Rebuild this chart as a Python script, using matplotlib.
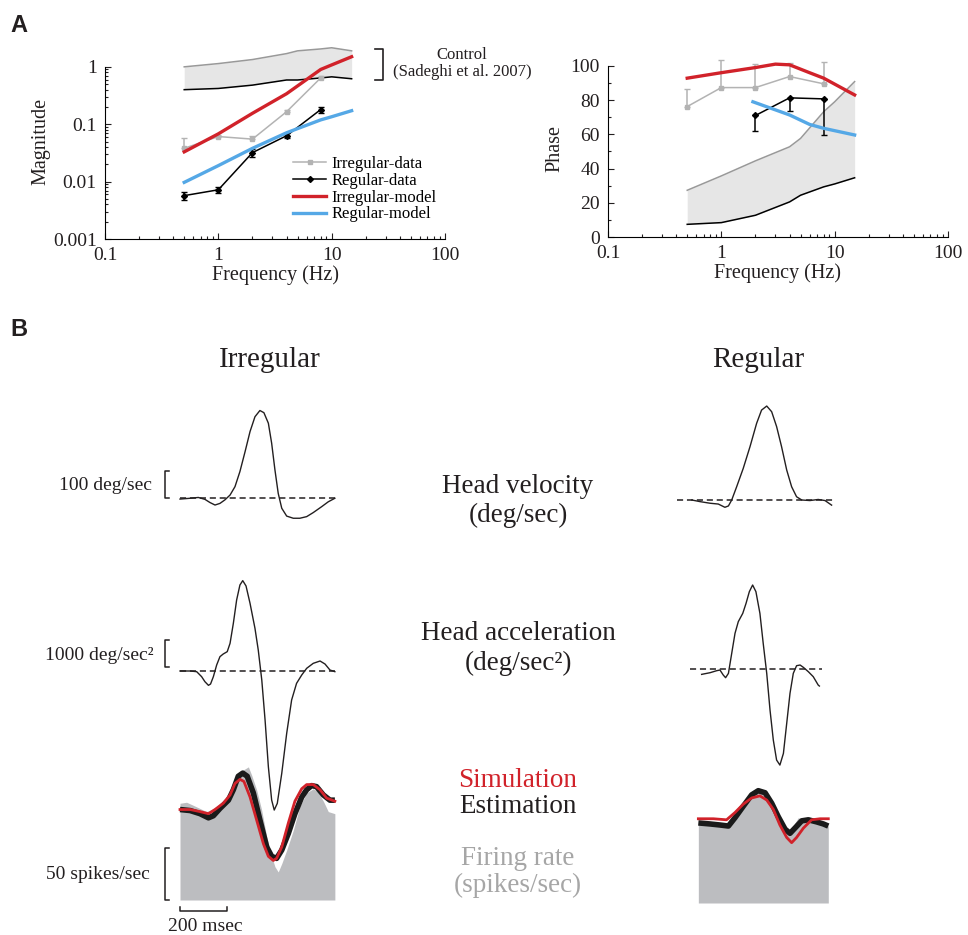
import matplotlib
matplotlib.use("Agg")
import matplotlib.pyplot as plt
from matplotlib.ticker import FixedLocator, NullFormatter

plt.rcParams['font.family'] = ['Liberation Serif', 'DejaVu Serif']
plt.rcParams['mathtext.fontset'] = 'stix'

W, H = 968, 935

# ---------------- panel A data ----------------
band_freq = [0.5, 1, 2, 4, 5, 8, 10, 15]
mag_band_hi = [1.0, 1.14, 1.34, 1.7, 1.9, 2.05, 2.15, 1.9]
mag_band_lo = [0.40, 0.42, 0.48, 0.59, 0.59, 0.64, 0.67, 0.62]
phase_band_hi = [27.3, 35.7, 44.5, 52.7, 57.6, 73.2, 79, 90.8]
phase_band_lo = [7.4, 8.4, 12.7, 20.5, 24.4, 29.3, 31, 34.6]

model_freq = [0.5, 1, 2, 4, 6, 8, 10, 15]
irr_mag_model = [0.033, 0.068, 0.155, 0.34, 0.6, 0.9, 1.08, 1.5]
reg_mag_model = [0.0097, 0.019, 0.038, 0.071, 0.096, 0.119, 0.135, 0.172]

irr_phase_model_freq = [0.5, 1, 2, 3, 4, 6, 8, 15]
irr_phase_model = [92.8, 96, 99, 101, 100.6, 96, 92.8, 83]
reg_phase_model_freq = [1.9, 4, 6, 8, 15]
reg_phase_model = [79, 71.3, 65.8, 63.5, 59.6]

data_freq = [0.5, 1, 2, 4, 8]
irr_mag = [0.038, 0.061, 0.055, 0.165, 0.64]
irr_mag_err = [0.019, 0.003, 0.007, 0.015, 0.06]
reg_mag = [0.0057, 0.0072, 0.032, 0.063, 0.18]
reg_mag_err = [0.0009, 0.0008, 0.005, 0.006, 0.02]
irr_phase = [76.2, 87.3, 87.3, 93.75, 89.5]
irr_phase_err = [10, 16, 13.5, 8, 12.5]
reg_phase_freq = [2, 4, 8]
reg_phase = [71, 81.3, 80.7]
reg_phase_err = [9, 7.7, 21]

# ---------------- panel B data ----------------
irr_vel_t = [0, 43, 78, 106, 128, 149, 170, 191, 213, 234, 255, 277, 298, 319, 340,
             357, 376, 390, 404, 418, 433, 454, 482, 510, 539, 567, 603, 631, 659]
irr_vel = [-4, -1, 2, -5, -17, -26, -20, -7, 11, 42, 98, 172, 246, 301, 324,
           316, 277, 203, 104, 17, -38, -67, -75, -75, -69, -54, -32, -14, -1]

irr_acc_t = [0, 43, 71, 92, 106, 121, 130, 142, 156, 170, 184, 201, 213, 227, 241, 255,
             267, 281, 298, 319, 333, 348, 362, 376, 390, 401, 414, 433, 454, 475, 496,
             518, 539, 567, 596, 617, 638, 659]
irr_acc = [0, 0, -25, -210, -395, -531, -482, -210, 222, 531, 630, 716, 1025, 1766, 2630,
           3186, 3347, 3149, 2507, 1581, 778, -334, -1815, -3544, -4779, -5150, -4903,
           -3791, -2309, -1074, -457, -148, 99, 284, 370, 259, 37, -25]

irr_fr_t = [0, 28, 57, 85, 113, 135, 163, 191, 213, 241, 269, 291, 305, 326, 347, 369,
            390, 404, 418, 433, 454, 482, 510, 539, 567, 588, 610, 631, 659]
irr_fr = [93, 94, 91, 88, 85, 87, 91, 96, 103, 117, 125, 128, 120, 106, 87, 61,
          42, 32, 27, 35, 48, 67, 90, 103, 107, 104, 95, 85, 83]
irr_est_t = [0, 43, 85, 121, 142, 170, 206, 227, 248, 267, 286, 312, 340, 369, 390, 411,
             433, 461, 489, 518, 539, 560, 581, 610, 638, 659]
irr_est = [87, 86, 83, 79, 81, 88, 96, 106, 119, 122, 119, 103, 77, 51, 42, 40,
           48, 64, 83, 99, 106, 110, 109, 101, 96, 96]
irr_sim_t = [0, 43, 85, 121, 149, 184, 213, 234, 255, 272, 298, 326, 355, 376, 397, 411,
             433, 461, 489, 518, 539, 567, 596, 624, 659]
irr_sim = [87, 87, 85, 83, 87, 93, 101, 112, 116, 114, 99, 77, 54, 42, 38, 40,
           51, 74, 95, 107, 111, 111, 106, 98, 95]

reg_vel_t = [-1, 34, 77, 112, 140, 155, 169, 190, 218, 247, 275, 296, 318, 339, 360,
             381, 403, 424, 445, 467, 502, 537, 566, 594]
reg_vel = [0, -6, -12, -15, -27, -22, 0, 49, 117, 198, 284, 333, 348, 327, 272,
           198, 111, 49, 12, 0, -2, 2, -2, -19]

reg_acc_t = [41, 77, 105, 119, 133, 143, 155, 169, 183, 197, 216, 230, 244, 258, 272,
             289, 303, 318, 332, 346, 360, 374, 389, 403, 417, 431, 445, 460, 474, 495,
             516, 537, 542]
reg_acc = [-210, -148, -74, -49, -235, -333, -173, 568, 1309, 1742, 2050, 2421, 2853,
           3100, 2853, 2050, 939, -173, -1531, -2643, -3384, -3569, -3137, -2026, -914,
           -173, 111, 136, 49, -111, -296, -605, -642]

reg_fr_t = [27, 91, 147, 183, 218, 254, 289, 325, 360, 389, 417, 438, 452, 474, 516, 545, 580]
reg_fr = [77, 76, 75, 85, 96, 104, 106, 101, 87, 74, 66, 77, 82, 80, 80, 77, 74]
reg_est_t = [27, 77, 119, 155, 183, 218, 254, 282, 311, 339, 367, 396, 417, 438, 467,
             495, 530, 559, 580]
reg_est = [77, 76, 75, 74, 82, 93, 104, 108, 106, 96, 83, 71, 67, 72, 79, 80, 78, 76, 74]
reg_sim_t = [27, 91, 147, 183, 218, 254, 289, 318, 346, 374, 403, 424, 445, 474, 509, 545, 580]
reg_sim = [81, 81, 80, 87, 95, 101, 103, 99, 90, 75, 63, 58, 63, 72, 80, 81, 81]

irr_zero_span = [0, 660]
reg_vel_zero_span = [-64, 608]
reg_acc_zero_span = [-9, 553]

RED = '#d1222a'
BLUE = '#55a8e6'
GREYDATA = '#b3b3b3'
BAND = '#e6e6e6'
FRGREY = '#bcbdc0'
TXT = '#231f20'

fig = plt.figure(figsize=(W / 100, H / 100), dpi=100)


def px_axes(x0, y0, x1, y1):
    return fig.add_axes([x0 / W, 1 - y1 / H, (x1 - x0) / W, (y1 - y0) / H])


def style_axes(ax):
    ax.spines['top'].set_visible(False)
    ax.spines['right'].set_visible(False)
    ax.tick_params(which='both', direction='in', labelsize=14, width=0.8, colors=TXT)
    ax.tick_params(which='major', length=4)
    ax.tick_params(which='minor', length=2.5)
    ax.tick_params(axis='x', which='major', pad=6)
    ax.tick_params(axis='y', which='major', pad=6)


x_minor = [k * 10.0 ** e for e in (-1, 0, 1) for k in range(2, 10)]

# ---------- magnitude ----------
ax1 = px_axes(105, 44, 445, 239)
ax1.set_xscale('log')
ax1.set_yscale('log')
ax1.fill_between(band_freq, mag_band_lo, mag_band_hi, color=BAND, lw=0)
ax1.plot(band_freq, mag_band_hi, color='#999999', lw=1.1)
ax1.plot(band_freq, mag_band_lo, color='black', lw=1.1)
ax1.plot(data_freq, irr_mag, color=GREYDATA, lw=1.1, marker='s', ms=3.5, label='Irregular-data')
ax1.errorbar(data_freq, irr_mag, yerr=[[0] * 5, irr_mag_err], fmt='none', ecolor=GREYDATA,
             elinewidth=1.1, capsize=2.5)
ax1.plot(data_freq, reg_mag, color='black', lw=1.1, marker='D', ms=3, label='Regular-data')
ax1.errorbar(data_freq, reg_mag, yerr=reg_mag_err, fmt='none', ecolor='black',
             elinewidth=1.1, capsize=2.5)
ax1.plot(model_freq, irr_mag_model, color=RED, lw=2.4, label='Irregular-model')
ax1.plot(model_freq, reg_mag_model, color=BLUE, lw=2.4, label='Regular-model')
ax1.set_xlim(0.1, 100)
ax1.set_ylim(0.001, 2.5)
ax1.spines['left'].set_bounds(0.001, 1)
ax1.set_xticks([0.1, 1, 10, 100], ['0.1', '1', '10', '100'])
ax1.set_yticks([0.001, 0.01, 0.1, 1], ['0.001', '0.01', '0.1', '1'])
ax1.xaxis.set_minor_locator(FixedLocator(x_minor))
ax1.yaxis.set_minor_locator(FixedLocator([k * 10.0 ** e for e in (-3, -2, -1) for k in range(2, 10)]))
ax1.xaxis.set_minor_formatter(NullFormatter())
ax1.yaxis.set_minor_formatter(NullFormatter())
style_axes(ax1)
ax1.set_xlabel('Frequency (Hz)', fontsize=14.5, labelpad=1, color=TXT)
ax1.set_ylabel('Magnitude', fontsize=14.5, labelpad=2, color=TXT)
ax1.legend(loc='upper left', bbox_to_anchor=(293 / W, 1 - 156 / H), bbox_transform=fig.transFigure,
           frameon=False, fontsize=12, borderpad=0, handlelength=2.0, handletextpad=0.3,
           labelspacing=0.05, borderaxespad=0)
# control bracket
ax1.plot([24, 28.5, 28.5, 24], [2.07, 2.07, 0.6, 0.6], color=TXT, lw=1.2, clip_on=False)
fig.text(462 / W, 1 - 55 / H, 'Control', ha='center', va='center', fontsize=12, color=TXT)
fig.text(462 / W, 1 - 72 / H, '(Sadeghi et al. 2007)', ha='center', va='center', fontsize=12, color=TXT)

# ---------- phase ----------
ax2 = px_axes(608, 59, 948, 237)
ax2.set_xscale('log')
ax2.fill_between(band_freq, phase_band_lo, phase_band_hi, color=BAND, lw=0)
ax2.plot(band_freq, phase_band_hi, color='#999999', lw=1.1)
ax2.plot(band_freq, phase_band_lo, color='black', lw=1.1)
ax2.plot(data_freq, irr_phase, color=GREYDATA, lw=1.1, marker='s', ms=3.5)
ax2.errorbar(data_freq, irr_phase, yerr=[[0] * 5, irr_phase_err], fmt='none', ecolor=GREYDATA,
             elinewidth=1.1, capsize=2.5)
ax2.plot(reg_phase_freq, reg_phase, color='black', lw=1.1, marker='D', ms=3)
ax2.errorbar(reg_phase_freq, reg_phase, yerr=[reg_phase_err, [0] * 3], fmt='none', ecolor='black',
             elinewidth=1.1, capsize=2.5)
ax2.plot(irr_phase_model_freq, irr_phase_model, color=RED, lw=2.4)
ax2.plot(reg_phase_model_freq, reg_phase_model, color=BLUE, lw=2.4)
ax2.set_xlim(0.1, 100)
ax2.set_ylim(0, 104)
ax2.spines['left'].set_bounds(0, 100)
ax2.set_xticks([0.1, 1, 10, 100], ['0.1', '1', '10', '100'])
ax2.set_yticks([0, 20, 40, 60, 80, 100])
ax2.xaxis.set_minor_locator(FixedLocator(x_minor))
ax2.yaxis.set_minor_locator(FixedLocator([10, 30, 50, 70, 90]))
ax2.xaxis.set_minor_formatter(NullFormatter())
style_axes(ax2)
ax2.set_xlabel('Frequency (Hz)', fontsize=14.5, labelpad=1, color=TXT)
ax2.set_ylabel('Phase', fontsize=14.5, labelpad=4, color=TXT)

fig.text(10 / W, 1 - 25 / H, 'A', fontsize=17, fontweight='bold', family='Liberation Sans',
         va='center', color=TXT)
fig.text(10 / W, 1 - 329 / H, 'B', fontsize=17, fontweight='bold', family='Liberation Sans',
         va='center', color=TXT)

# ---------------- panel B ----------------
MS_PX = 47 / 200.0
XLIM = (-130, 700)


def trace_axes(x_org, y_org, unit_px, ylim):
    x0 = x_org + XLIM[0] * MS_PX
    x1 = x_org + XLIM[1] * MS_PX
    y0 = y_org - ylim[1] * unit_px
    y1 = y_org - ylim[0] * unit_px
    ax = px_axes(x0, y0, x1, y1)
    ax.set_xlim(XLIM)
    ax.set_ylim(ylim)
    ax.axis('off')
    return ax


dash = dict(color=TXT, lw=1.1, ls=(0, (4, 2.5)))
LW = 1.0

# irregular column
v1 = trace_axes(180, 498, 0.27, (-100, 360))
v1.plot(irr_zero_span, [0, 0], **dash)
v1.plot(irr_vel_t, irr_vel, color=TXT, lw=LW)
v1.plot([-47, -64, -64, -47], [100, 100, 0, 0], color=TXT, lw=1.1, clip_on=False)

a1 = trace_axes(180, 671, 0.027, (-5600, 3800))
a1.plot(irr_zero_span, [0, 0], **dash)
a1.plot(irr_acc_t, irr_acc, color=TXT, lw=LW)
a1.plot([-47, -64, -64, -47], [1150, 1150, 150, 150], color=TXT, lw=1.1, clip_on=False)

f1 = trace_axes(180, 900, 1.04, (-20, 140))
f1.fill_between(irr_fr_t, 0, irr_fr, color=FRGREY, lw=0)
f1.plot(irr_est_t, irr_est, color='#1a1a1a', lw=4.0, solid_capstyle='butt')
f1.plot(irr_sim_t, irr_sim, color=RED, lw=2.0)
f1.plot([-47, -64, -64, -47], [50, 50, 0, 0], color=TXT, lw=1.1, clip_on=False)
f1.plot([0, 0, 200, 200], [-7, -10.6, -10.6, -7], color=TXT, lw=1.1, clip_on=False)

# regular column
v2 = trace_axes(692, 500, 0.27, (-100, 360))
v2.plot(reg_vel_zero_span, [0, 0], **dash)
v2.plot(reg_vel_t, reg_vel, color=TXT, lw=LW)

a2 = trace_axes(692, 668.7, 0.027, (-5600, 3800))
a2.plot(reg_acc_zero_span, [0, 0], **dash)
a2.plot(reg_acc_t, reg_acc, color=TXT, lw=LW)

f2 = trace_axes(692, 903, 1.04, (-20, 140))
f2.fill_between(reg_fr_t, 0, reg_fr, color=FRGREY, lw=0)
f2.plot(reg_est_t, reg_est, color='#1a1a1a', lw=4.0, solid_capstyle='butt')
f2.plot(reg_sim_t, reg_sim, color=RED, lw=2.0)


# texts
def ftext(x, y, s, **kw):
    kw.setdefault('color', TXT)
    fig.text(x / W, 1 - y / H, s, **kw)


ftext(270, 367, 'Irregular', ha='center', va='baseline', fontsize=21)
ftext(758, 367, 'Regular', ha='center', va='baseline', fontsize=21)
ftext(518, 493, 'Head velocity', ha='center', va='baseline', fontsize=19.5)
ftext(518, 522, '(deg/sec)', ha='center', va='baseline', fontsize=19.5)
ftext(518, 640, 'Head acceleration', ha='center', va='baseline', fontsize=19.5)
ftext(518, 670, '(deg/sec²)', ha='center', va='baseline', fontsize=19.5)
ftext(518, 787, 'Simulation', ha='center', va='baseline', fontsize=19.5, color=RED)
ftext(518, 813, 'Estimation', ha='center', va='baseline', fontsize=19.5)
ftext(518, 865, 'Firing rate', ha='center', va='baseline', fontsize=19.5, color='#a6a6a6')
ftext(518, 892, '(spikes/sec)', ha='center', va='baseline', fontsize=19.5, color='#a6a6a6')

ftext(152, 490, '100 deg/sec', ha='right', va='baseline', fontsize=14)
ftext(154, 660, '1000 deg/sec²', ha='right', va='baseline', fontsize=14)
ftext(150, 879, '50 spikes/sec', ha='right', va='baseline', fontsize=14)
ftext(205, 931, '200 msec', ha='center', va='baseline', fontsize=14)

fig.savefig('out.png', dpi=100)
